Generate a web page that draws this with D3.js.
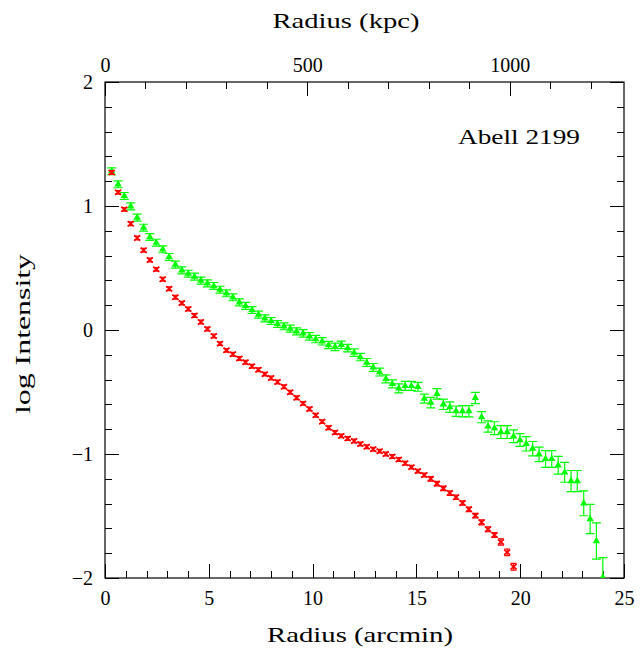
<!DOCTYPE html>
<html><head><meta charset="utf-8">
<script src="https://cdn.jsdelivr.net/npm/d3@7"></script>
<style>body{margin:0;background:#fff}</style>
</head><body>
<svg id="c" width="642" height="652"></svg>
<script>
// Radius in arcmin for each annulus
const radius = [0.32,0.63,0.93,1.24,1.55,1.86,2.16,2.47,2.78,3.09,
  3.39,3.70,4.01,4.31,4.62,4.93,5.24,5.54,5.85,6.16,
  6.47,6.77,7.08,7.39,7.70,8.00,8.31,8.62,8.92,9.23,
  9.54,9.85,10.15,10.46,10.77,11.08,11.38,11.69,12.00,12.30,
  12.61,12.92,13.23,13.53,13.84,14.15,14.46,14.76,15.07,15.38,
  15.69,15.99,16.30,16.61,16.91,17.22,17.53,17.84,18.14,18.45,
  18.76,19.07,19.37,19.68,19.99,20.29,20.60,20.91,21.22,21.52,
  21.83,22.14,22.45,22.75,23.06,23.37,23.67,23.98];

// red profile (crosses)
const redLogI = [1.27,1.11,0.973,0.857,0.742,0.643,0.565,0.489,0.409,0.333,
  0.264,0.217,0.169,0.117,0.065,0.008,-0.048,-0.110,-0.164,-0.196,
  -0.230,-0.260,-0.293,-0.320,-0.356,-0.387,-0.420,-0.458,-0.502,-0.546,
  -0.592,-0.637,-0.688,-0.739,-0.788,-0.826,-0.854,-0.875,-0.895,-0.919,
  -0.941,-0.962,-0.977,-1.000,-1.020,-1.045,-1.074,-1.106,-1.138,-1.170,
  -1.200,-1.239,-1.277,-1.315,-1.349,-1.395,-1.446,-1.497,-1.551,-1.607,
  -1.653,-1.710,-1.793,-1.909];
const redErr = [0.015,0.015,0.015,0.015,0.015,0.015,0.015,0.015,0.015,0.015,
  0.015,0.015,0.015,0.015,0.015,0.015,0.015,0.015,0.015,0.015,
  0.015,0.015,0.015,0.015,0.015,0.015,0.015,0.015,0.015,0.015,
  0.015,0.015,0.015,0.015,0.015,0.015,0.015,0.015,0.015,0.015,
  0.015,0.015,0.015,0.015,0.015,0.015,0.015,0.015,0.015,0.015,
  0.018,0.018,0.018,0.018,0.018,0.018,0.018,0.018,0.02,0.02,
  0.02,0.025,0.027,0.027];

// green profile (triangles)
const greenLogI = [1.28,1.175,1.081,0.997,0.906,0.825,0.750,0.704,0.651,0.589,
  0.527,0.481,0.454,0.430,0.398,0.376,0.355,0.325,0.296,0.264,
  0.223,0.194,0.161,0.124,0.094,0.073,0.048,0.030,0.011,-0.011,
  -0.027,-0.051,-0.073,-0.091,-0.121,-0.136,-0.120,-0.146,-0.183,-0.218,
  -0.262,-0.302,-0.339,-0.394,-0.435,-0.471,-0.451,-0.451,-0.458,-0.553,
  -0.586,-0.515,-0.599,-0.622,-0.655,-0.655,-0.655,-0.548,-0.703,-0.778,
  -0.792,-0.823,-0.823,-0.857,-0.887,-0.918,-0.957,-1.003,-1.040,-1.040,
  -1.091,-1.148,-1.218,-1.218,-1.398,-1.524,-1.702,-1.995];
const greenErr = [0.028,0.028,0.028,0.028,0.028,0.028,0.028,0.028,0.028,0.028,
  0.028,0.028,0.028,0.028,0.028,0.028,0.028,0.028,0.028,0.028,
  0.028,0.028,0.028,0.028,0.028,0.028,0.028,0.028,0.028,0.028,
  0.03,0.03,0.03,0.03,0.03,0.03,0.03,0.03,0.03,0.03,
  0.032,0.032,0.032,0.032,0.032,0.036,0.036,0.036,0.036,0.036,
  0.042,0.042,0.042,0.042,0.042,0.045,0.045,0.045,0.045,0.045,
  0.052,0.052,0.052,0.052,0.052,0.058,0.058,0.058,0.068,0.068,
  0.072,0.08,0.085,0.085,0.1,0.118,0.146,0.16];

const xMajorTicks = [0,5,10,15,20,25];
const xMinorTicks = d3.range(0,26,1);
const yMajorTicks = [-2,-1,0,1,2];
const yMinorTicks = [-2,-1.8,-1.6,-1.4,-1.2,-1,-0.8,-0.6,-0.4,-0.2,0,0.2,0.4,0.6,0.8,1,1.2,1.4,1.6,1.8,2];
const kpcMajorTicks = [0,500,1000];
const kpcMinorTicks = [0,100,200,300,400,500,600,700,800,900,1000,1100,1200];
const kpcPerArcmin = 51.3;
const clusterName = "Abell 2199";

const L=105, R=624, T=82, B=578;
const svg = d3.select("#c");
const x = d3.scaleLinear().domain([0,25]).range([L,R]);
const xk = d3.scaleLinear().domain([0,25*kpcPerArcmin]).range([L,R]);
const y = d3.scaleLinear().domain([-2,2]).range([B,T]);
const font = "'Liberation Serif', 'DejaVu Serif', serif";

function styleAxis(g){
  g.select(".domain").remove();
  g.selectAll(".tick line").attr("stroke","#000").attr("stroke-width",1).attr("shape-rendering","crispEdges");
  g.selectAll("text").attr("font-family",font).attr("font-size",20).attr("fill","#000");
}
// bottom
svg.append("g").attr("transform",`translate(0,${B})`)
  .call(d3.axisBottom(x).tickValues(xMinorTicks).tickSize(-7).tickFormat(""))
  .call(styleAxis);
svg.append("g").attr("transform",`translate(0,${B})`)
  .call(d3.axisBottom(x).tickValues(xMajorTicks).tickSize(-14).tickPadding(13).tickFormat(d3.format("d")))
  .call(styleAxis);
// top
svg.append("g").attr("transform",`translate(0,${T})`)
  .call(d3.axisTop(xk).tickValues(kpcMinorTicks).tickSize(-7).tickFormat(""))
  .call(styleAxis);
svg.append("g").attr("transform",`translate(0,${T})`)
  .call(d3.axisTop(xk).tickValues(kpcMajorTicks).tickSize(-14).tickPadding(10).tickFormat(d3.format("d")))
  .call(styleAxis);
// left
svg.append("g").attr("transform",`translate(${L},0)`)
  .call(d3.axisLeft(y).tickValues(yMinorTicks).tickSize(-7).tickFormat(""))
  .call(styleAxis);
svg.append("g").attr("transform",`translate(${L},0)`)
  .call(d3.axisLeft(y).tickValues(yMajorTicks).tickSize(-14).tickPadding(12).tickFormat(d3.format("d")))
  .call(styleAxis);
// right
svg.append("g").attr("transform",`translate(${R},0)`)
  .call(d3.axisRight(y).tickValues(yMinorTicks).tickSize(-7).tickFormat(""))
  .call(styleAxis);
svg.append("g").attr("transform",`translate(${R},0)`)
  .call(d3.axisRight(y).tickValues(yMajorTicks).tickSize(-14).tickFormat(""))
  .call(styleAxis);

// frame
svg.append("rect").attr("x",L).attr("y",T).attr("width",R-L).attr("height",B-T)
  .attr("fill","none").attr("stroke","#000").attr("stroke-width",1.2);

svg.append("clipPath").attr("id","clip").append("rect")
  .attr("x",L).attr("y",T).attr("width",R-L).attr("height",B-T);
const plot = svg.append("g").attr("clip-path","url(#clip)");

// green series
const green = greenLogI.map((v,i)=>({r:radius[i],v,e:greenErr[i]}));
const gG = plot.append("g").attr("stroke","#00ff00").attr("fill","#00ff00");
const gcap=4.5;
gG.selectAll("path.eb").data(green).join("path").attr("class","eb")
  .attr("fill","none").attr("stroke-width",1.2)
  .attr("d",d=>{const cx=x(d.r),y1=y(d.v+d.e),y2=y(d.v-d.e);
    return `M${cx},${y1}V${y2}M${cx-gcap},${y1}H${cx+gcap}M${cx-gcap},${y2}H${cx+gcap}`;});
gG.selectAll("path.mk").data(green).join("path").attr("class","mk")
  .attr("stroke","none")
  .attr("transform",d=>`translate(${x(d.r)},${y(d.v)})`)
  .attr("d",d3.symbol(d3.symbolTriangle,24));

// red series
const red = redLogI.map((v,i)=>({r:radius[i],v,e:redErr[i]}));
const rG = plot.append("g").attr("stroke","#ff0000").attr("fill","none");
const rcap=3;
rG.selectAll("path.eb").data(red).join("path").attr("class","eb")
  .attr("stroke-width",1.2)
  .attr("d",d=>{const cx=x(d.r),y1=y(d.v+d.e),y2=y(d.v-d.e);
    return `M${cx},${y1}V${y2}M${cx-rcap},${y1}H${cx+rcap}M${cx-rcap},${y2}H${cx+rcap}`;});
rG.selectAll("path.mk").data(red).join("path").attr("class","mk")
  .attr("stroke-width",1.7)
  .attr("d",d=>{const cx=x(d.r),cy=y(d.v);
    return `M${cx-3},${cy-2.6}L${cx+3},${cy+2.6}M${cx-3},${cy+2.6}L${cx+3},${cy-2.6}`;});

// titles
svg.append("text").attr("x",360).attr("y",642).attr("text-anchor","middle")
  .attr("font-family",font).attr("font-size",21)
  .attr("textLength",186).attr("lengthAdjust","spacingAndGlyphs").text("Radius (arcmin)");
svg.append("text").attr("x",346).attr("y",28).attr("text-anchor","middle")
  .attr("font-family",font).attr("font-size",21)
  .attr("textLength",147).attr("lengthAdjust","spacingAndGlyphs").text("Radius (kpc)");
svg.append("text").attr("transform","translate(30,334) rotate(-90)").attr("text-anchor","middle")
  .attr("font-family",font).attr("font-size",21)
  .attr("textLength",160).attr("lengthAdjust","spacingAndGlyphs").text("log Intensity");
svg.append("text").attr("x",458).attr("y",144)
  .attr("font-family",font).attr("font-size",21)
  .attr("textLength",122).attr("lengthAdjust","spacingAndGlyphs").text(clusterName);
</script>
</body></html>
